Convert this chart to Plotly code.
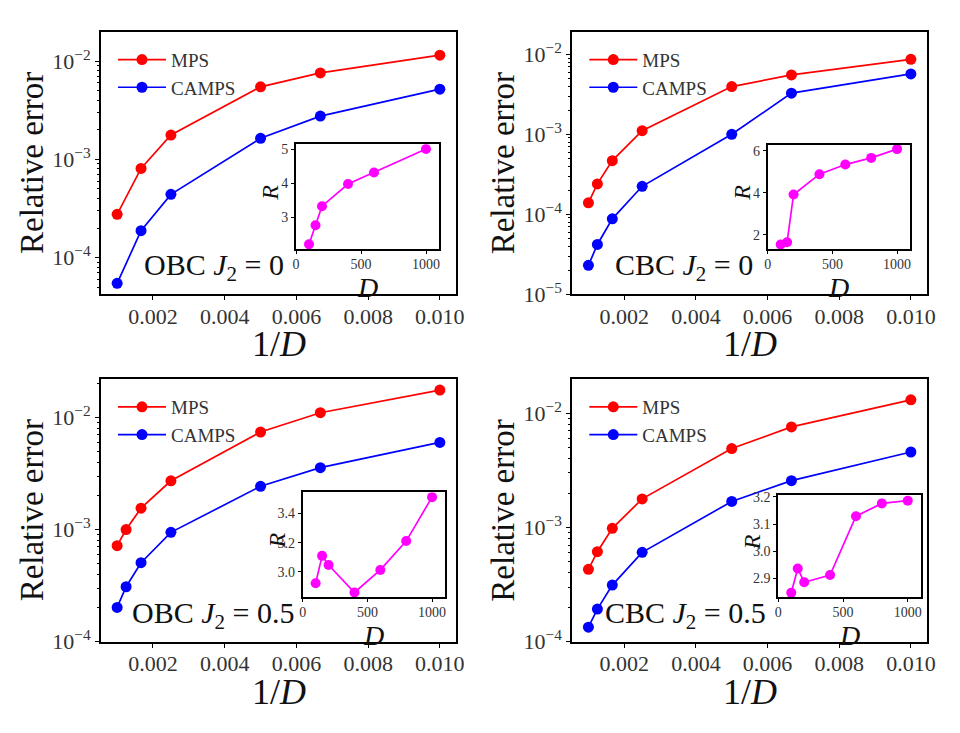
import plotly.graph_objects as go

W, H = 960, 733
OFF = 8  # page body margin of the html page

# ---------------- data ----------------
D_main_a = [1000, 600, 400, 200, 150, 100]
D_main_b = [1000, 800, 600, 400, 200, 150, 100]

obc0_mps   = [2.76e-4, 8.1e-4, 1.77e-3, 5.48e-3, 7.6e-3, 1.15e-2]
obc0_camps = [5.48e-5, 1.88e-4, 4.41e-4, 1.64e-3, 2.76e-3, 5.19e-3]

cbc0_mps   = [1.39e-4, 2.40e-4, 4.69e-4, 1.11e-3, 3.95e-3, 5.53e-3, 8.67e-3]
cbc0_camps = [2.30e-5, 4.2e-5, 8.77e-5, 2.24e-4, 1.0e-3, 3.27e-3, 5.69e-3]

obc5_mps   = [7.18e-4, 1.0e-3, 1.55e-3, 2.72e-3, 7.40e-3, 1.10e-2, 1.75e-2]
obc5_camps = [2.02e-4, 3.09e-4, 5.06e-4, 9.44e-4, 2.43e-3, 3.56e-3, 5.98e-3]

cbc5_mps   = [4.30e-4, 6.14e-4, 9.84e-4, 1.78e-3, 4.91e-3, 7.59e-3, 1.31e-2]
cbc5_camps = [1.34e-4, 1.93e-4, 3.13e-4, 6.06e-4, 1.69e-3, 2.57e-3, 4.58e-3]

D_in_a = [100, 150, 200, 400, 600, 1000]
D_in_b = [100, 150, 200, 400, 600, 800, 1000]
obc0_R = [2.20, 2.76, 3.32, 3.97, 4.31, 5.00]
cbc0_R = [1.53, 1.64, 3.92, 4.89, 5.35, 5.67, 6.09]
obc5_R = [2.923, 3.110, 3.047, 2.860, 3.014, 3.211, 3.511]
cbc5_R = [2.848, 2.937, 2.886, 2.913, 3.129, 3.176, 3.186]

labels = ["OBC", "CBC", "OBC", "CBC"]
j2_vals = ["0", "0", "0.5", "0.5"]

main_ticks = [1e-5, 1e-4, 1e-3, 1e-2]
main_ticktext = ["10<sup>−5</sup>", "10<sup>−4</sup>", "10<sup>−3</sup>", "10<sup>−2</sup>"]
x_ticks = [0.002, 0.004, 0.006, 0.008, 0.010]
inset_xticks = [0, 500, 1000]
inset_yticks = [[3, 4, 5], [2, 4, 6], [3.0, 3.2, 3.4], [2.9, 3.0, 3.1, 3.2]]
inset_yfmt = [".0f", ".0f", ".1f", ".1f"]

panels = [
    (D_main_a, obc0_mps, obc0_camps, D_in_a, obc0_R),
    (D_main_b, cbc0_mps, cbc0_camps, D_in_b, cbc0_R),
    (D_main_b, obc5_mps, obc5_camps, D_in_b, obc5_R),
    (D_main_b, cbc5_mps, cbc5_camps, D_in_b, cbc5_R),
]

# ---------------- layout geometry (pixels in the final picture) ----------------
main_boxes = [(101, 456, 31.7, 294.3), (572.3, 927, 31.7, 294.3),
              (101, 456, 379, 641.7), (572.3, 927, 379, 641.7)]
inset_boxes = [(296, 439, 144.3, 249), (767.7, 910, 144.7, 249.3),
               (302.7, 445, 492.3, 597.3), (778.3, 920.7, 494.7, 597.3)]
main_yranges = [(-4.373, -1.70), (-5.0, -1.717), (-4.0, -1.658), (-4.0, -1.70)]
inset_yranges = [(2.06, 5.14), (1.30, 6.30), (2.827, 3.544), (2.831, 3.208)]
text_pos = [(142, 267), (613, 267), (130, 615), (603, 615)]

FONT = "Liberation Serif"
TICKC = "#333333"

def px(x):
    return (x - OFF) / W

def py(y):
    return 1 - (y - OFF) / H

def ann(fig, x, y, text, size, angle=0, xanchor="center"):
    fig.add_annotation(x=px(x), y=py(y), xref="paper", yref="paper",
                       xanchor=xanchor, yanchor="middle", text=text,
                       textangle=angle, showarrow=False,
                       font=dict(family=FONT, size=size, color="#111"))

fig = go.Figure()
minor_vals = [k * 10 ** e for e in range(-6, 0) for k in range(2, 10)]

for i, (Dm, mps, camps, Din, R) in enumerate(panels):
    xa = "xaxis" if i == 0 else f"xaxis{2*i+1}"
    ya = "yaxis" if i == 0 else f"yaxis{2*i+1}"
    xr = "x" if i == 0 else f"x{2*i+1}"
    yr = "y" if i == 0 else f"y{2*i+1}"
    xa_in = f"xaxis{2*i+2}"
    ya_in = f"yaxis{2*i+2}"
    xr_in = f"x{2*i+2}"
    yr_in = f"y{2*i+2}"
    leg = "legend" if i == 0 else f"legend{i+1}"

    invD = [1.0 / d for d in Dm]
    fig.add_trace(go.Scatter(x=invD, y=mps, mode="lines+markers", name="MPS",
                             line=dict(color="#ff0000", width=1.7),
                             marker=dict(color="#ff0000", size=11),
                             xaxis=xr, yaxis=yr, legend=leg))
    fig.add_trace(go.Scatter(x=invD, y=camps, mode="lines+markers", name="CAMPS",
                             line=dict(color="#0000ff", width=1.7),
                             marker=dict(color="#0000ff", size=11),
                             xaxis=xr, yaxis=yr, legend=leg))
    fig.add_trace(go.Scatter(x=Din, y=R, mode="lines+markers", showlegend=False,
                             line=dict(color="#ff00ff", width=1.7),
                             marker=dict(color="#ff00ff", size=10),
                             xaxis=xr_in, yaxis=yr_in))

    l, r, t, b = main_boxes[i]
    common = dict(showline=True, mirror=True, linecolor="black", linewidth=2,
                  showgrid=False, zeroline=False, ticks="outside", ticklen=4,
                  tickwidth=1.2, tickcolor="black", automargin=False,
                  tickfont=dict(family=FONT, size=22, color=TICKC))
    fig.layout[xa] = dict(domain=[px(l), px(r)], range=[0.00055, 0.01045],
                          tickmode="array", tickvals=x_ticks,
                          ticktext=[f"{v:.3f}" for v in x_ticks],
                          ticklabelstandoff=-3,
                          anchor=yr, **common)
    fig.layout[ya] = dict(domain=[py(b), py(t)], type="log",
                          range=list(main_yranges[i]),
                          tickmode="array", tickvals=main_ticks, ticktext=main_ticktext,
                          minor=dict(tickmode="array", tickvals=minor_vals,
                                     ticks="outside", ticklen=2, tickcolor="black",
                                     tickwidth=1, showgrid=False),
                          anchor=xr, **common)

    il, ir, it, ib = inset_boxes[i]
    icommon = dict(showline=True, mirror=True, linecolor="black", linewidth=2,
                   showgrid=False, zeroline=False, ticks="outside", ticklen=3,
                   tickwidth=1.1, tickcolor="black", automargin=False,
                   tickfont=dict(family=FONT, size=14, color=TICKC))
    fig.layout[xa_in] = dict(domain=[px(il), px(ir)], range=[0, 1100],
                             tickmode="array", tickvals=inset_xticks,
                             ticklabelstandoff=-2,
                             anchor=yr_in, **icommon)
    fig.layout[ya_in] = dict(domain=[py(ib), py(it)], range=list(inset_yranges[i]),
                             tickmode="array", tickvals=inset_yticks[i],
                             ticktext=[format(v, inset_yfmt[i]) for v in inset_yticks[i]],
                             anchor=xr_in, **icommon)

    fig.layout[leg] = dict(x=px(l + 12), y=py(t + 9), xanchor="left", yanchor="top",
                           bgcolor="rgba(0,0,0,0)", borderwidth=0,
                           font=dict(family=FONT, size=19, color="#333"),
                           tracegroupgap=0, itemwidth=48)

    # axis titles
    ann(fig, l - 69, (t + b) / 2, "Relative error", 33, angle=-90)
    ann(fig, (l + r) / 2, b + 50, "1/<i>D</i>", 36)
    tx, ty = text_pos[i]
    ann(fig, tx, ty, f"{labels[i]} <i>J</i><sub>2</sub> = {j2_vals[i]}", 30, xanchor="left")
    # inset titles
    ann(fig, il - 26, (it + ib) / 2 - 4, "<i>R</i>", 24, angle=-90)
    ann(fig, (il + ir) / 2, ib + 38, "<i>D</i>", 28)

fig.update_layout(width=W, height=H, margin=dict(l=0, r=0, t=0, b=0),
                  paper_bgcolor="white", plot_bgcolor="white")

fig.write_html("out.html")
